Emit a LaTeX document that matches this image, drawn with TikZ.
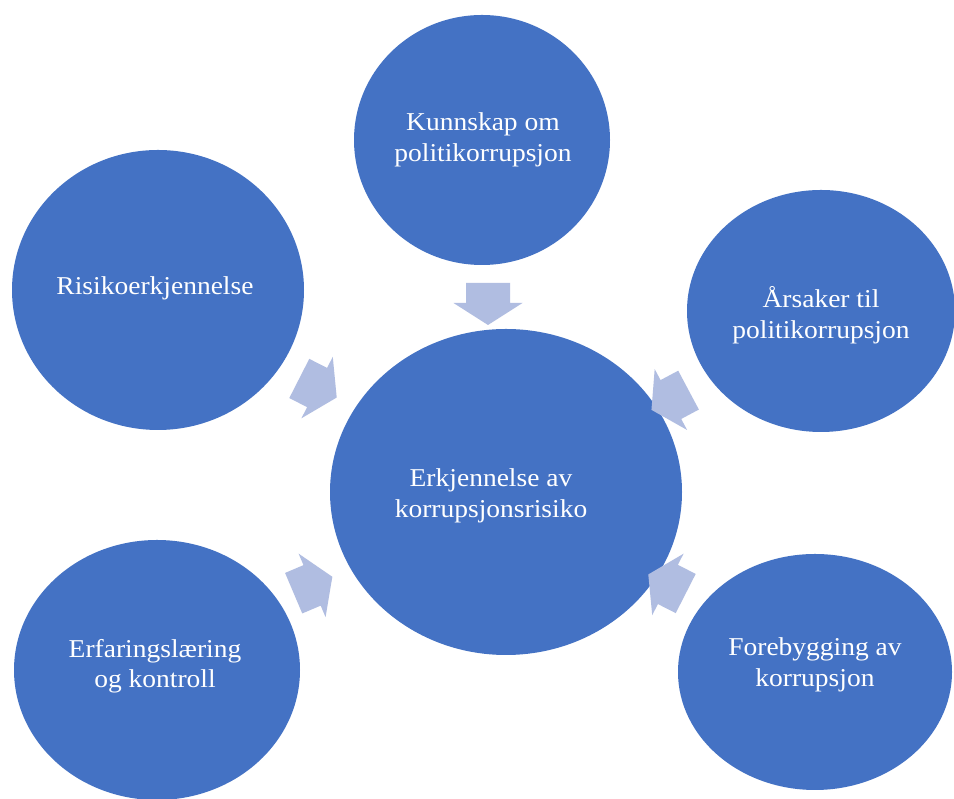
\documentclass[tikz,border=0pt]{standalone}
\usepackage{fontspec}
\setmainfont{Liberation Serif}[FakeStretch=1.07]
\usetikzlibrary{shapes.geometric}
\definecolor{bubble}{RGB}{68,114,196}
\definecolor{arrowfill}{RGB}{176,189,225}
\tikzset{
  bubblenode/.style={ellipse, fill=bubble, draw=none, inner sep=0pt},
  label/.style={text=white, align=center, inner sep=0pt,
    font=\fontsize{25.7}{30.5}\selectfont},
  blockarrow/.pic={
    \fill[arrowfill] (-21,-22) -- (-1,-22) -- (-1,-34.5) -- (21,0)
      -- (-1,34.5) -- (-1,22) -- (-21,22) -- cycle;
  }
}
\begin{document}
\begin{tikzpicture}[x=1pt,y=1pt]
\useasboundingbox (0,0) rectangle (954,799);
\clip (0,0) rectangle (954,799);
\fill[white] (0,0) rectangle (954,799);
% bubbles
\node[bubblenode, minimum width=256pt, minimum height=250pt] (K) at (482,659) {};
\node[bubblenode, minimum width=292pt, minimum height=280pt] (R) at (158,509) {};
\node[bubblenode, minimum width=268pt, minimum height=242pt] (A) at (821,488) {};
\node[bubblenode, minimum width=352pt, minimum height=326pt] (C) at (506,307) {};
\node[bubblenode, minimum width=286pt, minimum height=260pt] (E) at (157,129) {};
\node[bubblenode, minimum width=274pt, minimum height=236pt] (F) at (815,127) {};
% texts
\node[label] (Kt) at (483,659) {Kunnskap om\\politikorrupsjon};
\node[label] (Rt) at (155,511) {Risikoerkjennelse};
\node[label] (At) at (821,484) {Årsaker til\\politikorrupsjon};
\node[label] (Ct) at (491,303) {Erkjennelse av\\korrupsjonsrisiko};
\node[label] (Et) at (155,133) {Erfaringslæring\\og kontroll};
\node[label] (Ft) at (815,134) {Forebygging av\\korrupsjon};
% block arrows pointing to the centre
\pic[rotate=-90] (aK) at (488,495) {blockarrow};
\pic[rotate=-27] (aR) at (318,411) {blockarrow};
\pic[rotate=208] (aA) at (670,399) {blockarrow};
\pic[rotate=23] (aE) at (313,214) {blockarrow};
\pic[rotate=153] (aF) at (667,215) {blockarrow};
\end{tikzpicture}
\end{document}
